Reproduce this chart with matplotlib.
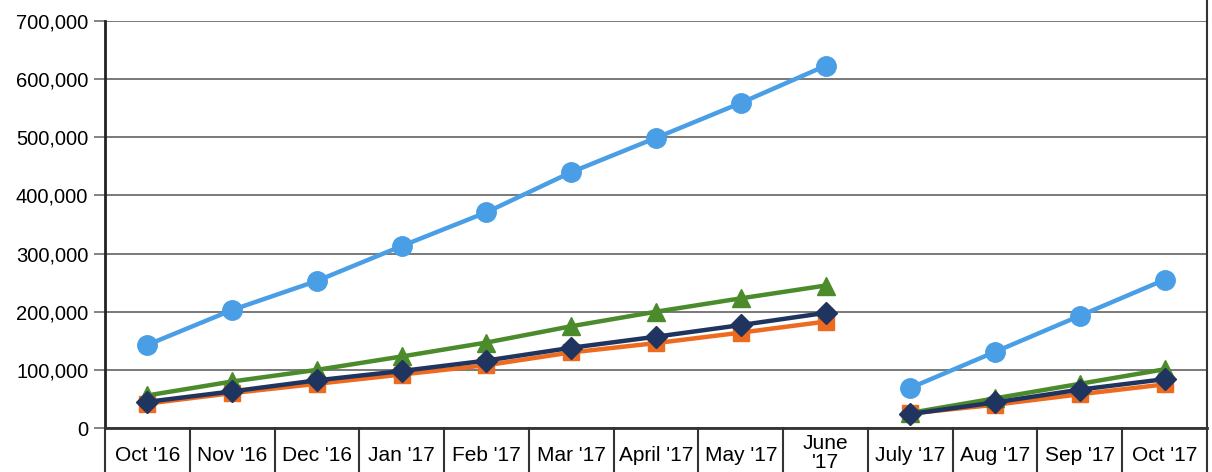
import matplotlib
matplotlib.use("Agg")
import matplotlib.pyplot as plt
import matplotlib.ticker as ticker
import numpy as np

# monthly values
months = ["Oct '16", "Nov '16", "Dec '16", "Jan '17", "Feb '17", "Mar '17",
          "April '17", "May '17", "June\n'17", "July '17", "Aug '17", "Sep '17", "Oct '17"]
blue = [143000, 203000, 253000, 313000, 371000, 440000, 499000, 559000, 623000,
        69000, 131000, 193000, 255000]
orange = [42000, 60000, 76000, 92000, 108000, 130000, 146000, 164000, 183000,
          25000, 40000, 58000, 75000]
green = [56000, 80000, 100000, 123000, 147000, 175000, 200000, 223000, 245000,
         26000, 51000, 76000, 101000]
navy = [45000, 63000, 82000, 98000, 116000, 138000, 157000, 177000, 198000,
        24000, 44000, 66000, 84000]

# the line breaks between June '17 and July '17
segments = [(0, 9), (9, 13)]

plt.rcParams['font.family'] = ['Liberation Sans', 'DejaVu Sans']

fig = plt.figure(figsize=(12.12, 4.72), dpi=100)
ax = fig.add_axes([105/1212, 1-428/472, (1207-105)/1212, (428-21)/472])

x = np.arange(len(months))
styles = [
    (orange, '#EE6A1E', 's', 12),
    (green, '#4B8B2B', '^', 13),
    (blue, '#4A9EE6', 'o', 14),
    (navy, '#1F3560', 'D', 11),
]
for vals, col, mk, ms in styles:
    v = np.array(vals, dtype=float)
    for a, b in segments:
        ax.plot(x[a:b], v[a:b], color=col, lw=3.2, marker=mk, markersize=ms,
                markerfacecolor=col, markeredgecolor=col, zorder=3)

ax.set_xlim(-0.5, len(months) - 0.5)
ax.set_ylim(0, 700000)
ax.yaxis.set_major_locator(ticker.MultipleLocator(100000))
ax.yaxis.set_major_formatter(ticker.FuncFormatter(lambda v, p: f"{int(v):,}"))
ax.grid(axis='y', color='#6e6e6e', lw=1.3)
ax.set_axisbelow(True)
ax.tick_params(axis='y', length=8, width=1.2, color='#6e6e6e', labelsize=14.5, pad=4)
ax.set_xticks([])

ax.spines['top'].set_visible(False)
ax.spines['left'].set_linewidth(2)
ax.spines['left'].set_color('#222222')
ax.spines['bottom'].set_linewidth(2)
ax.spines['bottom'].set_color('#333333')
ax.spines['right'].set_linewidth(1.5)
ax.spines['right'].set_color('#333333')

trans = ax.get_xaxis_transform()
# cell dividers under the axis
for b in np.arange(-0.5, len(months) + 0.5, 1.0):
    ax.plot([b, b], [0, -0.2], transform=trans, color='#333333', lw=1.5,
            clip_on=False)
ax.plot([len(months) - 0.5] * 2, [1, 1.1], transform=trans, color='#333333',
        lw=1.5, clip_on=False)

for i, lab in enumerate(months):
    if '\n' in lab:
        ax.text(i, -0.015, lab, transform=trans, ha='center', va='top',
                fontsize=15, linespacing=1.0)
    else:
        ax.text(i, -0.068, lab, transform=trans, ha='center', va='center',
                fontsize=15)

fig.savefig("out.png", dpi=100)
